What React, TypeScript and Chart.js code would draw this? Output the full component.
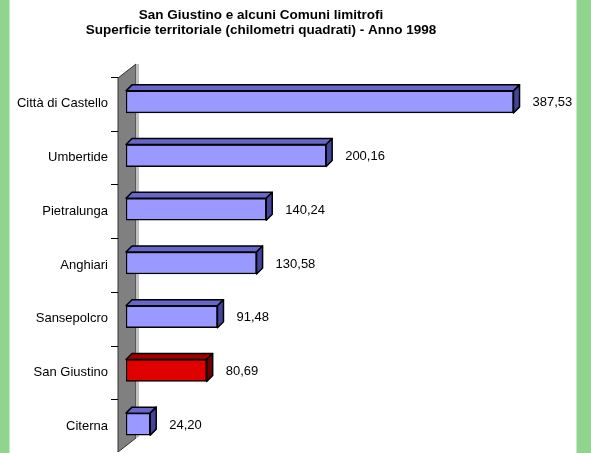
import React, { useEffect, useRef } from "react";
import { Chart, registerables } from "chart.js";

Chart.register(...registerables);

const categories = [
  "Città di Castello",
  "Umbertide",
  "Pietralunga",
  "Anghiari",
  "Sansepolcro",
  "San Giustino",
  "Citerna",
];
const values = [387.53, 200.16, 140.24, 130.58, 91.48, 80.69, 24.2];
const highlightIndex = 5;
const titleLines = [
  "San Giustino e alcuni Comuni limitrofi",
  "Superficie territoriale (chilometri quadrati) - Anno 1998",
];

const FONT = "'Liberation Sans', Arial, sans-serif";
const GREEN = "#8fd48f";

function formatValue(v: number) {
  return v.toFixed(2).replace(".", ",");
}

const frontColors = values.map((_, i) => (i === highlightIndex ? "#e00000" : "#9999ff"));
const topColors = values.map((_, i) => (i === highlightIndex ? "#a00000" : "#6666cc"));
const sideColors = values.map((_, i) => (i === highlightIndex ? "#700000" : "#44449a"));

const decoPlugin = {
  id: "deco",
  beforeDraw(chart: any) {
    const { ctx, width, height, chartArea } = chart;
    ctx.save();
    ctx.fillStyle = "#ffffff";
    ctx.fillRect(0, 0, width, height);
    ctx.fillStyle = GREEN;
    ctx.fillRect(0, 0, 9, height);
    ctx.fillRect(577, 0, width - 577, height);
    ctx.fillStyle = "#c8ecc8";
    ctx.fillRect(9, 0, 1, height);
    ctx.fillRect(576, 0, 1, height);

    const wl = chartArea.left - 8;
    const wt = chartArea.top + 3;
    const wb = chartArea.bottom + 1;
    const dx = 18;
    const dy = 14;
    ctx.beginPath();
    ctx.moveTo(wl, wt);
    ctx.lineTo(wl + dx, wt - dy);
    ctx.lineTo(wl + dx, wb - dy);
    ctx.lineTo(wl, wb);
    ctx.closePath();
    ctx.fillStyle = "#808080";
    ctx.fill();
    ctx.lineWidth = 1;
    ctx.strokeStyle = "#333333";
    ctx.stroke();
    ctx.beginPath();
    ctx.moveTo(wl + dx, wt - dy);
    ctx.lineTo(wl + dx + 3, wt - dy);
    ctx.lineTo(wl + dx + 3, wb - dy - 1);
    ctx.lineTo(wl + dx, wb - dy);
    ctx.closePath();
    ctx.fillStyle = "#c0c0c0";
    ctx.fill();
    ctx.restore();
  },
  afterDatasetsDraw(chart: any) {
    const { ctx, chartArea } = chart;
    const meta = chart.getDatasetMeta(0);
    const d = 6;
    ctx.save();
    meta.data.forEach((bar: any, i: number) => {
      const p = bar.getProps(["x", "y", "base", "height"], true);
      const left = Math.min(p.base, p.x);
      const right = Math.max(p.base, p.x);
      const top = p.y - p.height / 2;
      const bottom = p.y + p.height / 2;
      ctx.lineWidth = 1.5;
      ctx.strokeStyle = "#000000";
      ctx.lineJoin = "round";
      ctx.beginPath();
      ctx.moveTo(left, top);
      ctx.lineTo(left + d, top - d);
      ctx.lineTo(right + d, top - d);
      ctx.lineTo(right, top);
      ctx.closePath();
      ctx.fillStyle = topColors[i];
      ctx.fill();
      ctx.stroke();
      ctx.beginPath();
      ctx.moveTo(right, top);
      ctx.lineTo(right + d, top - d);
      ctx.lineTo(right + d, bottom - d);
      ctx.lineTo(right, bottom);
      ctx.closePath();
      ctx.fillStyle = sideColors[i];
      ctx.fill();
      ctx.stroke();
      ctx.fillStyle = "#000000";
      ctx.font = `13px ${FONT}`;
      ctx.textAlign = "left";
      ctx.textBaseline = "middle";
      ctx.fillText(formatValue(values[i]), right + 19, p.y + 1);
    });

    const yScale = chart.scales.y;
    const step = (chartArea.bottom - chartArea.top) / categories.length;
    ctx.strokeStyle = "#000000";
    ctx.lineWidth = 1;
    for (let i = 0; i <= categories.length; i++) {
      const yy = Math.round(yScale.getPixelForValue(i) - step / 2 + 2) + 0.5;
      ctx.beginPath();
      ctx.moveTo(chartArea.left - 15, yy);
      ctx.lineTo(chartArea.left - 8, yy);
      ctx.stroke();
    }

    ctx.fillStyle = "#000000";
    ctx.font = `bold 13.5px ${FONT}`;
    ctx.textAlign = "center";
    ctx.textBaseline = "middle";
    ctx.fillText(titleLines[0], 261, 15);
    ctx.fillText(titleLines[1], 261, 30);
    ctx.restore();
  },
};

export default function App() {
  const ref = useRef<HTMLCanvasElement | null>(null);
  useEffect(() => {
    if (!ref.current) return;
    const chart = new Chart(ref.current, {
      type: "bar",
      data: {
        labels: categories,
        datasets: [
          {
            data: values,
            backgroundColor: frontColors,
            borderColor: "#000000",
            borderWidth: 1.5,
            borderSkipped: false,
            barThickness: 22,
          },
        ],
      },
      options: {
        indexAxis: "y",
        responsive: false,
        animation: false,
        devicePixelRatio: 1,
        layout: { padding: { top: 75, left: 9, right: 15, bottom: 2 } },
        plugins: {
          legend: { display: false },
          title: { display: false },
          tooltip: { enabled: false },
        },
        scales: {
          x: { display: false, min: 0, max: 450 },
          y: {
            display: true,
            border: { display: false },
            grid: { display: false, drawTicks: false },
            ticks: {
              padding: 18,
              labelOffset: 2,
              color: "#000000",
              font: { family: FONT, size: 13 },
            },
            afterFit: (scale: any) => {
              scale.width = 117;
              scale.paddingTop = 0;
              scale.paddingBottom = 0;
            },
          },
        },
      },
      plugins: [decoPlugin],
    } as any);
    return () => chart.destroy();
  }, []);
  return (
    <div style={{ position: "absolute", left: 0, top: 0, width: 591, height: 453 }}>
      <canvas ref={ref} width={591} height={453} style={{ display: "block" }} />
    </div>
  );
}
